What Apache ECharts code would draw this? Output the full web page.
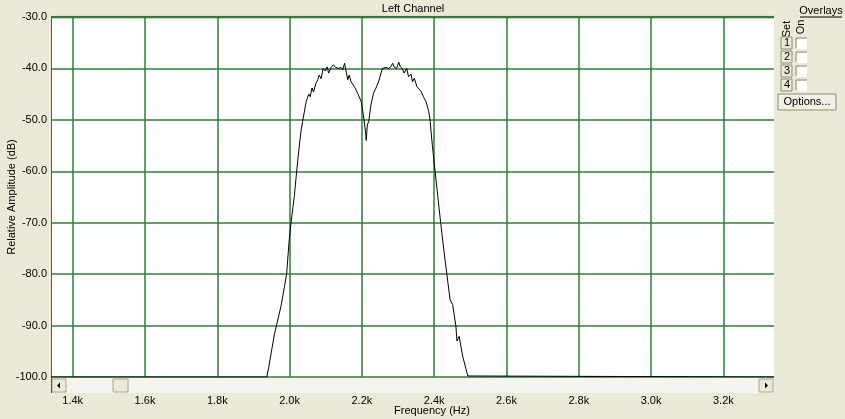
<!DOCTYPE html>
<html><head><meta charset="utf-8">
<script src="https://cdn.jsdelivr.net/npm/echarts@6/dist/echarts.min.js"></script>
<style>html,body{margin:0;padding:0;background:#ECE9D8;}#c{width:845px;height:419px;}</style>
</head><body><div id="c"></div>
<script>
const freqs = [1340,1937,1942,1958,1976,1986,1992,1999,2004,2013,2020,2027,2032,2036,2046,2053,2057,2062,2066,2073,2078,2082,2087,2093,2099,2104,2108,2115,2121,2127,2130,2136,2142,2147,2152,2156,2161,2165,2170,2179,2188,2198,2204,2210,2212,2215,2219,2225,2232,2239,2246,2253,2257,2262,2267,2274,2281,2285,2290,2296,2302,2306,2311,2317,2324,2329,2336,2340,2345,2352,2357,2364,2370,2377,2385,2389,2391,2395,2400,2410,2419,2431,2444,2451,2460,2463,2469,2479,2493,2495,3340];
const amps = [-100,-100,-98.2,-91.7,-86.3,-82.4,-79.8,-73.3,-70,-64.9,-59.7,-54.9,-52,-50.3,-46.4,-45,-45.5,-43.8,-44.6,-42.9,-42.2,-41.3,-42,-40,-40.5,-39.7,-40.9,-39.8,-39.3,-39.8,-39.5,-40,-39.8,-40.3,-39,-38.8,-42.2,-41.3,-42.6,-43.5,-44.8,-46.4,-49,-52.3,-54,-51,-50.3,-47.1,-44.8,-43.8,-42.6,-40.9,-40,-40.3,-39.8,-40,-39.6,-39,-39.8,-40,-38.8,-39.6,-40,-40.9,-40,-41.6,-41.1,-42.6,-41.9,-43.5,-43.2,-44.5,-45.5,-46.4,-48.4,-50.3,-52,-55,-58.4,-64.9,-70.7,-77.8,-85,-85.9,-90.1,-93,-92.1,-96,-99.8,-100,-100];
const xTicks = [1400,1600,1800,2000,2200,2400,2600,2800,3000,3200];
const xMin = 1340, xMax = 3340;
const yMin = -100, yMax = -30, yStep = 10;
const title = 'Left Channel';
const xName = 'Frequency (Hz)';
const yName = 'Relative Amplitude (dB)';

const FONT = 'Liberation Sans';
const GREEN = '#2E7D3A';
const chart = echarts.init(document.getElementById('c'));

const data = freqs.map((f,i)=>[f, amps[i]]);

const L = 51, T = 17, R = 774, B = 377;

const graphics = [
  // scrollbar
  {type:'rect', shape:{x:L, y:B+1, width:R-L, height:15}, style:{fill:'#F5F4EF'}, z:1},
  {type:'rect', shape:{x:L+1, y:B+2, width:14, height:13}, style:{fill:'#ECE9D8', stroke:'#A8A594', lineWidth:1}, z:2},
  {type:'polygon', shape:{points:[[L+6,B+8.5],[L+9,B+5.5],[L+9,B+11.5]]}, style:{fill:'#000'}, z:3},
  {type:'rect', shape:{x:113, y:B+2, width:15, height:13}, style:{fill:'#ECE9D8', stroke:'#A8A594', lineWidth:1}, z:2},
  {type:'rect', shape:{x:R-15, y:B+2, width:14, height:13}, style:{fill:'#ECE9D8', stroke:'#A8A594', lineWidth:1}, z:2},
  {type:'polygon', shape:{points:[[R-6,B+8.5],[R-9,B+5.5],[R-9,B+11.5]]}, style:{fill:'#000'}, z:3},
  {type:'line', shape:{x1:L+0.5, y1:B, x2:L+0.5, y2:B+16}, style:{stroke:'#555', lineWidth:1}, z:3},
  // title
  {type:'text', x:413, y:9, style:{text:title, font:'11px '+FONT, fill:'#000', align:'center', verticalAlign:'middle'}},
  {type:'text', x:432, y:411, style:{text:xName, font:'11px '+FONT, fill:'#000', align:'center', verticalAlign:'middle'}},
  // overlays panel
  {type:'text', x:821, y:11, style:{text:'Overlays', font:'11px '+FONT, fill:'#000', align:'center', verticalAlign:'middle'}},
  {type:'line', shape:{x1:800, y1:17, x2:842, y2:17}, style:{stroke:'#000', lineWidth:1}},
  {type:'text', x:787, y:29, rotation:Math.PI/2, style:{text:'Set', font:'11px '+FONT, fill:'#000', align:'center', verticalAlign:'middle'}},
  {type:'text', x:801, y:27, rotation:Math.PI/2, style:{text:'On', font:'11px '+FONT, fill:'#000', align:'center', verticalAlign:'middle'}},
  {type:'rect', shape:{x:778, y:94, width:58, height:16}, style:{fill:'#F1EFE6', stroke:'#8E8B7C', lineWidth:1}},
  {type:'text', x:807, y:102, style:{text:'Options...', font:'11px '+FONT, fill:'#000', align:'center', verticalAlign:'middle'}}
];
[43,57,71,85].forEach((cy,i)=>{
  graphics.push({type:'rect', shape:{x:781, y:cy-6, width:11, height:12}, style:{fill:'#ECE9D8', stroke:'#8E8B7C', lineWidth:1}});
  graphics.push({type:'text', x:787, y:cy, style:{text:String(i+1), font:'11px '+FONT, fill:'#000', align:'center', verticalAlign:'middle'}});
  graphics.push({type:'line', shape:{x1:796, y1:cy+5, x2:796, y2:cy-5}, style:{stroke:'#8E8B7C', lineWidth:1}});
  graphics.push({type:'line', shape:{x1:796, y1:cy-5, x2:807, y2:cy-5}, style:{stroke:'#8E8B7C', lineWidth:1}});
  graphics.push({type:'rect', shape:{x:797, y:cy-4, width:10, height:10}, style:{fill:'#FFFFFF'}});
});

chart.setOption({
  backgroundColor:'#ECE9D8',
  animation:false,
  grid:{left:L, top:T, right:845-R, bottom:419-B, show:true, backgroundColor:'#FFFFFF', borderWidth:0,
    containLabel:false, outerBoundsMode:'none'},
  xAxis:{
    type:'value', min:xMin, max:xMax, offset:14,
    axisLine:{show:false},
    axisTick:{show:true, inside:false, length:2, lineStyle:{color:'#333'}, customValues:xTicks},
    axisLabel:{customValues:xTicks, margin:4, fontFamily:FONT, fontSize:11, color:'#000',
      formatter:v=>(v/1000).toFixed(1)+'k'},
    splitLine:{show:true, lineStyle:{color:GREEN, width:1.5}}
  },
  yAxis:{
    type:'value', min:yMin, max:yMax, interval:yStep,
    name:yName, nameLocation:'middle', nameGap:34, nameRotate:90, nameMoveOverlap:false,
    nameTextStyle:{fontFamily:FONT, fontSize:11, color:'#000'},
    axisLine:{show:true, lineStyle:{color:'#555', width:1}},
    axisTick:{show:false},
    axisLabel:{fontFamily:FONT, fontSize:11, color:'#000', margin:4, formatter:v=>v.toFixed(1)},
    splitLine:{show:true, lineStyle:{color:GREEN, width:1.5}}
  },
  series:[{
    type:'line', data:data, showSymbol:false, symbol:'none',
    lineStyle:{color:'#000', width:1}, z:5
  },{
    type:'line', data:[[xMin,yMax],[xMax,yMax]], showSymbol:false, symbol:'none',
    lineStyle:{color:GREEN, width:2.5}, z:4, silent:true
  }],
  graphic:graphics
});
</script></body></html>
